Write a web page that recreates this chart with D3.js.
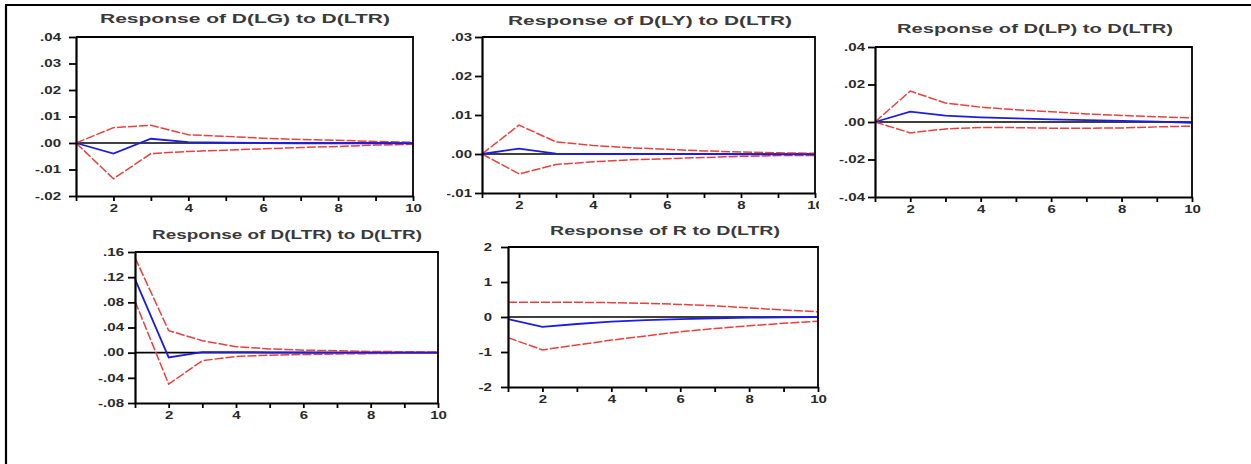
<!DOCTYPE html>
<html>
<head>
<meta charset="utf-8">
<script src="https://cdn.jsdelivr.net/npm/d3@7"></script>
<style>
  html, body { margin: 0; padding: 0; background: #fff; }
  svg { display: block; }
  text { font-family: "Liberation Sans", Arial, sans-serif; font-weight: bold; }
</style>
</head>
<body>
<svg id="chart" width="1251" height="464"></svg>
<script>
// Impulse-response horizon
const periods = [1, 2, 3, 4, 5, 6, 7, 8, 9, 10];
const xLabelPeriods = [2, 4, 6, 8, 10];

// Response of D(LG) to D(LTR)
const lgResp  = [0, -0.0040, 0.0016, 0.0003, 0.0001, 0.0000, -0.0001, -0.0001, -0.0001, -0.0001];
const lgUpper = [0, 0.0058, 0.0067, 0.0031, 0.0025, 0.0018, 0.0013, 0.0010, 0.0006, 0.0003];
const lgLower = [0, -0.0135, -0.0040, -0.0032, -0.0027, -0.0022, -0.0017, -0.0013, -0.0008, -0.0005];
const lgTicks = [0.04, 0.03, 0.02, 0.01, 0, -0.01, -0.02];
const lgTickLabels = [".04", ".03", ".02", ".01", ".00", "-.01", "-.02"];

// Response of D(LY) to D(LTR)
const lyResp  = [0, 0.0014, 0.0001, 0, 0, 0, 0, -0.0001, -0.0001, -0.0001];
const lyUpper = [0, 0.0074, 0.0031, 0.0022, 0.0016, 0.0012, 0.0008, 0.0005, 0.0003, 0.0002];
const lyLower = [0, -0.0051, -0.0027, -0.0020, -0.0015, -0.0012, -0.0009, -0.0006, -0.0004, -0.0004];
const lyTicks = [0.03, 0.02, 0.01, 0, -0.01];
const lyTickLabels = [".03", ".02", ".01", ".00", "-.01"];

// Response of D(LP) to D(LTR)
const lpResp  = [0, 0.0055, 0.0034, 0.0025, 0.0019, 0.0014, 0.0010, 0.0006, 0.0002, -0.0004];
const lpUpper = [0, 0.0165, 0.0101, 0.0079, 0.0065, 0.0055, 0.0043, 0.0035, 0.0028, 0.0022];
const lpLower = [0, -0.0058, -0.0037, -0.0029, -0.0030, -0.0033, -0.0033, -0.0032, -0.0026, -0.0022];
const lpTicks = [0.04, 0.02, 0, -0.02, -0.04];
const lpTickLabels = [".04", ".02", ".00", "-.02", "-.04"];

// Response of D(LTR) to D(LTR)
const ltrResp  = [0.117, -0.0075, 0.0010, 0.0010, 0.0005, 0.0003, 0.0002, 0.0001, 0, 0];
const ltrUpper = [0.151, 0.035, 0.019, 0.0095, 0.006, 0.004, 0.003, 0.002, 0.0015, 0.001];
const ltrLower = [0.082, -0.050, -0.0127, -0.006, -0.004, -0.003, -0.002, -0.0015, -0.001, -0.0005];
const ltrTicks = [0.16, 0.12, 0.08, 0.04, 0, -0.04, -0.08];
const ltrTickLabels = [".16", ".12", ".08", ".04", ".00", "-.04", "-.08"];

// Response of R to D(LTR)
const rResp  = [-0.06, -0.28, -0.20, -0.13, -0.09, -0.06, -0.04, -0.02, -0.01, 0.0];
const rUpper = [0.42, 0.42, 0.42, 0.41, 0.39, 0.36, 0.32, 0.26, 0.20, 0.15];
const rLower = [-0.59, -0.94, -0.80, -0.66, -0.54, -0.42, -0.33, -0.25, -0.18, -0.12];
const rTicks = [2, 1, 0, -1, -2];
const rTickLabels = ["2", "1", "0", "-1", "-2"];

const panels = [
  { title: "Response of D(LG) to D(LTR)", resp: lgResp, upper: lgUpper, lower: lgLower,
    ticks: lgTicks, labels: lgTickLabels,
    left: 76, right: 413, top: 37, bottom: 196, titleX: 245, titleY: 23, titleW: 290, pad: 8 },
  { title: "Response of D(LY) to D(LTR)", resp: lyResp, upper: lyUpper, lower: lyLower,
    ticks: lyTicks, labels: lyTickLabels,
    left: 482, right: 815, top: 37, bottom: 193, titleX: 650, titleY: 25, titleW: 284, pad: 3,
    clip: { x: 447, y: 0, w: 372, h: 230 } },
  { title: "Response of D(LP) to D(LTR)", resp: lpResp, upper: lpUpper, lower: lpLower,
    ticks: lpTicks, labels: lpTickLabels,
    left: 875, right: 1192, top: 47, bottom: 197, titleX: 1035, titleY: 33, titleW: 276, pad: 3 },
  { title: "Response of D(LTR) to D(LTR)", resp: ltrResp, upper: ltrUpper, lower: ltrLower,
    ticks: ltrTicks, labels: ltrTickLabels,
    left: 135, right: 438, top: 252, bottom: 403, titleX: 287, titleY: 239, titleW: 270, pad: 4 },
  { title: "Response of R to D(LTR)", resp: rResp, upper: rUpper, lower: rLower,
    ticks: rTicks, labels: rTickLabels,
    left: 508, right: 818, top: 247, bottom: 387, titleX: 665, titleY: 235, titleW: 230, pad: 9 }
];

const svg = d3.select("#chart");
const defs = svg.append("defs");

// Outer frame: top and left rules
svg.append("line").attr("x1", 5).attr("x2", 1251).attr("y1", 5).attr("y2", 5)
  .attr("stroke", "#000").attr("stroke-width", 2.2);
svg.append("line").attr("x1", 6).attr("x2", 6).attr("y1", 5).attr("y2", 464)
  .attr("stroke", "#000").attr("stroke-width", 2.2);

const RED = "#e8403c";
const BLUE = "#1c1ce6";

panels.forEach((p, idx) => {
  const g = svg.append("g");
  if (p.clip) {
    defs.append("clipPath").attr("id", "clip" + idx)
      .append("rect").attr("x", p.clip.x).attr("y", p.clip.y)
      .attr("width", p.clip.w).attr("height", p.clip.h);
    g.attr("clip-path", `url(#clip${idx})`);
  }

  const x = d3.scaleLinear().domain([1, 10]).range([p.left, p.right]);
  const y = d3.scaleLinear()
    .domain([p.ticks[p.ticks.length - 1], p.ticks[0]])
    .range([p.bottom, p.top]);

  // Title
  g.append("text")
    .attr("x", p.titleX).attr("y", p.titleY)
    .attr("text-anchor", "middle")
    .attr("font-size", 13)
    .attr("fill", "#3a3a3a")
    .attr("textLength", p.titleW)
    .attr("lengthAdjust", "spacingAndGlyphs")
    .text(p.title);

  // Zero line
  g.append("line")
    .attr("x1", x(1)).attr("x2", x(10))
    .attr("y1", y(0)).attr("y2", y(0))
    .attr("stroke", "#000").attr("stroke-width", 1.6);

  const line = d3.line().x((d, i) => x(periods[i])).y(d => y(d));

  // Confidence bands (dashed red) and response (blue)
  [p.upper, p.lower].forEach(band => {
    g.append("path").datum(band)
      .attr("d", line).attr("fill", "none")
      .attr("stroke", RED).attr("stroke-width", 1.5)
      .attr("stroke-dasharray", "9,2");
  });
  g.append("path").datum(p.resp)
    .attr("d", line).attr("fill", "none")
    .attr("stroke", BLUE).attr("stroke-width", 1.8);

  // Plot frame (top and right sides)
  g.append("path")
    .attr("d", `M${p.left},${p.top}H${p.right}V${p.bottom}`)
    .attr("fill", "none").attr("stroke", "#000").attr("stroke-width", 1.8);

  // Axes
  const yAxis = d3.axisLeft(y)
    .tickValues(p.ticks)
    .tickFormat((d, i) => p.labels[i])
    .tickSize(7).tickSizeOuter(0).tickPadding(p.pad);
  const xAxis = d3.axisBottom(x)
    .tickValues(periods)
    .tickFormat(d => xLabelPeriods.includes(d) ? String(d) : "")
    .tickSize(5).tickSizeOuter(0).tickPadding(4);

  const ya = g.append("g").attr("transform", `translate(${p.left},0)`).call(yAxis);
  const xa = g.append("g").attr("transform", `translate(0,${p.bottom})`).call(xAxis);
  [ya, xa].forEach(a => {
    a.select(".domain").attr("stroke", "#000").attr("stroke-width", 2.2);
    a.selectAll(".tick line").attr("stroke", "#000").attr("stroke-width", 1.8);
    a.selectAll(".tick text")
      .attr("class", "stretch")
      .attr("font-size", 10)
      .attr("font-family", null)
      .attr("fill", "#2a2a2a");
  });
});

// Widen axis labels to the broad lettering of the figure
svg.selectAll("text.stretch").each(function () {
  const w = this.getComputedTextLength();
  if (w > 0) {
    this.setAttribute("textLength", (w * 1.5).toFixed(1));
    this.setAttribute("lengthAdjust", "spacingAndGlyphs");
  }
});
</script>
</body>
</html>
